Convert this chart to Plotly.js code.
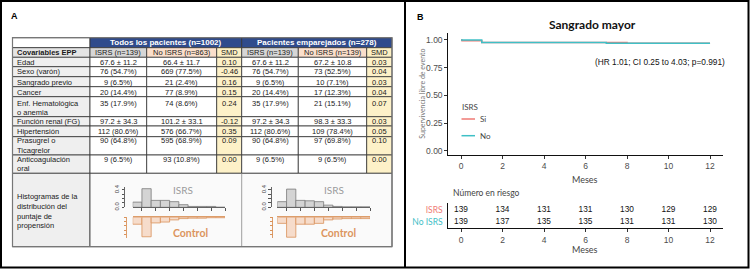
<!DOCTYPE html>
<html><head><meta charset="utf-8">
<script src="https://cdn.plot.ly/plotly-3.0.1.min.js"></script>
<style>html,body{margin:0;padding:0;background:#fff}#chart{width:750px;height:270px}</style>
</head><body><div id="chart"></div>
<script>
// ---------------- DATA ----------------
const groupHeaders = ["Todos los pacientes (n=1002)", "Pacientes emparejados (n=278)"];
const columnHeaders = ["Covariables EPP", "ISRS (n=139)", "No ISRS (n=863)", "SMD", "ISRS (n=139)", "No ISRS (n=139)", "SMD"];
const covariates = ["Edad", "Sexo (varón)", "Sangrado previo", "Cancer", "Enf. Hematológica<br>o anemia", "Función renal (FG)", "Hipertensión", "Prasugrel o<br>Ticagrelor", "Anticoagulación<br>oral"];
const isrsAll = ["67.6 ± 11.2", "76 (54.7%)", "9 (6.5%)", "20 (14.4%)", "35 (17.9%)", "97.2 ± 34.3", "112 (80.6%)", "90 (64.8%)", "9 (6.5%)"];
const noIsrsAll = ["66.4 ± 11.7", "669 (77.5%)", "21 (2.4%)", "77 (8.9%)", "74 (8.6%)", "101.2 ± 33.1", "576 (66.7%)", "595 (68.9%)", "93 (10.8%)"];
const smdAll = ["0.10", "-0.46", "0.16", "0.15", "0.24", "-0.12", "0.35", "0.09", "0.00"];
const isrsMatched = ["67.6 ± 11.2", "76 (54.7%)", "9 (6.5%)", "20 (14.4%)", "35 (17.9%)", "97.2 ± 34.3", "112 (80.6%)", "90 (64.8%)", "9 (6.5%)"];
const noIsrsMatched = ["67.2 ± 10.8", "73 (52.5%)", "10 (7.1%)", "17 (12.3%)", "21 (15.1%)", "98.3 ± 33.3", "109 (78.4%)", "97 (69.8%)", "9 (6.5%)"];
const smdMatched = ["0.03", "0.04", "0.03", "0.04", "0.07", "0.03", "0.05", "0.10", "0.00"];
const histRowLabel = "Histogramas de la<br>distribución del<br>puntaje de<br>propensión";

// propensity score histograms (10 bins, density)
const psBins = [0.05, 0.15, 0.25, 0.35, 0.45, 0.55, 0.65, 0.75, 0.85, 0.95];
const psIsrsAll = [0.12, 0.43, 0.16, 0.16, 0.13, 0.06, 0.02, 0.02, 0.02, 0.00];
const psControlAll = [0.16, 0.45, 0.13, 0.11, 0.06, 0.03, 0.02, 0.02, 0.01, 0.01];
const psIsrsMatched = [0.13, 0.42, 0.16, 0.15, 0.13, 0.05, 0.02, 0.01, 0.01, 0.01];
const psControlMatched = [0.14, 0.46, 0.16, 0.16, 0.14, 0.06, 0.04, 0.03, 0.03, 0.03];

// Kaplan-Meier: Sangrado mayor
const kmMonthsSi = [0, 0.05, 1, 8, 12];
const kmSurvSi = [1, 0.993, 0.978, 0.971, 0.971];
const kmMonthsNo = [0, 1, 7, 12];
const kmSurvNo = [1, 0.978, 0.971, 0.971];
const hrText = "(HR 1.01; CI 0.25 to 4.03; p=0.991)";

// Number at risk
const riskMonths = [0, 2, 4, 6, 8, 10, 12];
const riskIsrs = [139, 134, 131, 131, 130, 129, 129];
const riskNoIsrs = [139, 137, 135, 135, 131, 131, 130];

// ---------------- LAYOUT HELPERS ----------------
const W = 750, H = 270;
const px = x => x / W, py = y => 1 - y / H;
const shapes = [], annotations = [];
const TF = 'Liberation Sans, Arial, sans-serif';
const CF = 'Lato, Open Sans, sans-serif';
function rect(x0, y0, x1, y1, fill, lc, lw, layer) {
  shapes.push({type: 'rect', xref: 'paper', yref: 'paper', x0: px(x0), x1: px(x1), y0: py(y1), y1: py(y0),
    fillcolor: fill, line: {color: lc, width: lw}, layer: layer || 'below'});
}
function seg(x0, y0, x1, y1, c, w, layer) {
  shapes.push({type: 'line', xref: 'paper', yref: 'paper', x0: px(x0), x1: px(x1), y0: py(y0), y1: py(y1),
    line: {color: c, width: w}, layer: layer || 'above'});
}
function txt(t, x, y, font, xa, ya, extra) {
  annotations.push(Object.assign({text: t, x: px(x), y: py(y), xref: 'paper', yref: 'paper', showarrow: false,
    xanchor: xa || 'center', yanchor: ya || 'middle', font: font, borderpad: 0}, extra || {}));
}
function lines(t, x, yFirst, step, font, xa) {
  t.split('<br>').forEach((s, i) => txt(s, x, yFirst + i * step, font, xa));
}

// ---------------- PANEL A: TABLE ----------------
const colX = [12.5, 90, 146.7, 216.7, 241.7, 298.3, 366.7, 392];
const rowY = [37.7, 47.7, 57.3, 66.7, 76.7, 86.7, 96.7, 116.7, 126, 136.7, 155, 173.3, 246.7];
const cellFont = {family: TF, size: 7.5, color: '#1a1a1a'};
const BL = '#2f4b8c', LC = '#333333';
txt('<b>A</b>', 14, 16, {family: TF, size: 9, color: '#000'});

// header row 1
rect(colX[0], rowY[0], colX[1], rowY[1], '#ffffff', LC, 0.8);
rect(colX[1], rowY[0], colX[4], rowY[1], BL, LC, 0.8);
rect(colX[4], rowY[0], colX[7], rowY[1], BL, LC, 0.8);
txt('<b>' + groupHeaders[0] + '</b>', (colX[1] + colX[4]) / 2, (rowY[0] + rowY[1]) / 2 + 0.3, {family: TF, size: 8, color: '#fff'});
txt('<b>' + groupHeaders[1] + '</b>', (colX[4] + colX[7]) / 2, (rowY[0] + rowY[1]) / 2 + 0.3, {family: TF, size: 8, color: '#fff'});
// header row 2
const hdrFill = ['#e4e4e4', '#d6d6d6', '#fbdfcb', '#fcefc2', '#d6d6d6', '#fbdfcb', '#fcefc2'];
for (let c = 0; c < 7; c++) {
  rect(colX[c], rowY[1], colX[c + 1], rowY[2], hdrFill[c], LC, 0.8);
  const t = c === 0 ? '<b>' + columnHeaders[c] + '</b>' : columnHeaders[c];
  if (c === 0) txt(t, colX[0] + 3, (rowY[1] + rowY[2]) / 2 + 0.3, cellFont, 'left');
  else txt(t, (colX[c] + colX[c + 1]) / 2, (rowY[1] + rowY[2]) / 2 + 0.3, cellFont);
}
// data rows
const rowFill = ['#efefef', '#ffffff', '#ffffff', '#fdf1c8', '#ffffff', '#ffffff', '#fdf1c8'];
for (let r = 0; r < covariates.length; r++) {
  const y0 = rowY[r + 2], y1 = rowY[r + 3];
  const vals = [covariates[r], isrsAll[r], noIsrsAll[r], smdAll[r], isrsMatched[r], noIsrsMatched[r], smdMatched[r]];
  const two = covariates[r].indexOf('<br>') >= 0;
  const tall = (y1 - y0) > 19.5;
  const ty = two ? (tall ? y0 + 6.3 : y0 + 4.1) : (y0 + y1) / 2 + 0.3;
  const step = tall ? 9.4 : 9.8;
  for (let c = 0; c < 7; c++) {
    rect(colX[c], y0, colX[c + 1], y1, rowFill[c], LC, 0.8);
    if (c === 0) lines(vals[c], colX[0] + 3, ty, step, cellFont, 'left');
    else txt(vals[c], (colX[c] + colX[c + 1]) / 2, ty, cellFont);
  }
}
// histogram row
const hy0 = rowY[11], hy1 = rowY[12];
rect(colX[0], hy0, colX[1], hy1, '#efefef', LC, 0.8);
rect(colX[1], hy0, colX[7], hy1, '#fafafa', LC, 0.8);
seg(colX[4], hy0, colX[4], hy1, '#888', 0.8);
lines(histRowLabel, colX[0] + 3, 196.7, 9.7, cellFont, 'left');
// table outer frame
rect(colX[0], rowY[0], colX[7], rowY[12], 'rgba(0,0,0,0)', '#777', 1.2, 'above');
// histogram labels
const isrsLblFont = {family: CF, size: 10, color: '#9a9a9a'};
const ctrlLblFont = {family: CF, size: 10.5, color: '#dc955e'};
txt('ISRS', 183.3, 189.5, isrsLblFont);
txt('ISRS', 333.5, 189.5, isrsLblFont);
txt('<b>Control</b>', 190, 232.5, ctrlLblFont);
txt('<b>Control</b>', 338, 233.3, ctrlLblFont);

// ---------------- PANEL B: KM ----------------
const RED = '#ef7a74', TEAL = '#3fc0c6';
txt('<b>B</b>', 420, 17, {family: TF, size: 9, color: '#000'});
txt('<b>Sangrado mayor</b>', 592, 24.5, {family: CF, size: 12, color: '#111'});
txt(hrText, 660, 61.7, {family: TF, size: 8.3, color: '#111'});
txt('Supervivencia libre de evento', 421.7, 94, {family: CF, size: 7, color: '#777'}, 'center', 'middle', {textangle: -90});
txt('Meses', 585, 179, {family: CF, size: 9, color: '#444'});
txt('Número en riesgo', 451.5, 193.3, {family: CF, size: 8.5, color: '#444'}, 'left');
txt('Meses', 585, 249.5, {family: CF, size: 9, color: '#444'});
// manual legend
txt('ISRS', 461.5, 106.7, {family: CF, size: 8, color: '#444'}, 'left');
seg(461.5, 119, 475, 119, RED, 1.5);
txt('Si', 478.5, 119, {family: CF, size: 8, color: '#444'}, 'left');
seg(461.5, 135.7, 475, 135.7, TEAL, 1.5);
txt('No', 478.5, 135.7, {family: CF, size: 8, color: '#444'}, 'left');

// outer frame and divider
rect(1, 1, 748.5, 267.5, 'rgba(0,0,0,0)', '#000', 2, 'above');
seg(405, 1, 405, 267.5, '#000', 2);

// ---------------- TRACES ----------------
const traces = [
  {type: 'scatter', mode: 'lines', x: kmMonthsSi, y: kmSurvSi, line: {shape: 'hv', color: RED, width: 1.5}, xaxis: 'x', yaxis: 'y', hoverinfo: 'skip'},
  {type: 'scatter', mode: 'lines', x: kmMonthsNo, y: kmSurvNo, line: {shape: 'hv', color: TEAL, width: 1.5}, xaxis: 'x', yaxis: 'y', hoverinfo: 'skip'},
  {type: 'scatter', mode: 'text', x: riskMonths, y: riskMonths.map(() => 1), text: riskIsrs.map(String), textfont: {family: TF, size: 8.3, color: '#111'}, xaxis: 'x2', yaxis: 'y2', hoverinfo: 'skip'},
  {type: 'scatter', mode: 'text', x: riskMonths, y: riskMonths.map(() => 0), text: riskNoIsrs.map(String), textfont: {family: TF, size: 8.3, color: '#111'}, xaxis: 'x2', yaxis: 'y2', hoverinfo: 'skip'},
  {type: 'bar', x: psBins, y: psIsrsAll, width: 0.1, marker: {color: '#d4d4d4', line: {color: '#7a7a7a', width: 0.8}}, xaxis: 'x3', yaxis: 'y3', hoverinfo: 'skip'},
  {type: 'bar', x: psBins, y: psControlAll, width: 0.1, marker: {color: '#f6dccb', line: {color: '#d9925a', width: 0.8}}, xaxis: 'x4', yaxis: 'y4', hoverinfo: 'skip'},
  {type: 'bar', x: psBins, y: psIsrsMatched, width: 0.1, marker: {color: '#d4d4d4', line: {color: '#7a7a7a', width: 0.8}}, xaxis: 'x5', yaxis: 'y5', hoverinfo: 'skip'},
  {type: 'bar', x: psBins, y: psControlMatched, width: 0.1, marker: {color: '#f6dccb', line: {color: '#d9925a', width: 0.8}}, xaxis: 'x6', yaxis: 'y6', hoverinfo: 'skip'}
];

const kmX0 = 448.3, kmX1 = 722.7;
const common = {showgrid: false, zeroline: false, fixedrange: true};
const tickF = {family: TF, size: 8.5, color: '#4d4d4d'};
const layout = {
  width: W, height: H, autosize: false, margin: {l: 0, r: 0, t: 0, b: 0},
  paper_bgcolor: '#ffffff', plot_bgcolor: 'rgba(0,0,0,0)', showlegend: false, bargap: 0,
  xaxis: Object.assign({}, common, {domain: [px(kmX0), px(kmX1)], range: [-0.612, 12.61], anchor: 'y', tickvals: riskMonths,
    ticks: 'outside', ticklen: 3, tickcolor: '#333', showline: true, linecolor: '#111', linewidth: 1, tickfont: tickF}),
  yaxis: Object.assign({}, common, {domain: [py(155), py(33.3)], range: [-0.039, 1.06], anchor: 'x', tickvals: [0, 0.25, 0.5, 0.75, 1],
    ticktext: ['0.00', '0.25', '0.50', '0.75', '1.00'], ticks: 'outside', ticklen: 3, tickcolor: '#333', showline: true, linecolor: '#111', linewidth: 1, tickfont: tickF}),
  xaxis2: Object.assign({}, common, {domain: [px(kmX0), px(kmX1)], range: [-0.612, 12.61], anchor: 'y2', tickvals: riskMonths,
    ticks: 'outside', ticklen: 3, tickcolor: '#333', showline: true, linecolor: '#111', linewidth: 1, tickfont: tickF}),
  yaxis2: Object.assign({}, common, {domain: [py(228.3), py(202.7)], range: [-0.56, 1.62], anchor: 'x2', tickvals: [1, 0],
    ticktext: ['<span style="color:' + RED + '">ISRS</span>', '<span style="color:' + TEAL + '">No ISRS</span>'],
    ticks: 'outside', ticklen: 3, tickcolor: 'rgba(0,0,0,0)', showline: true, linecolor: '#111', linewidth: 1, tickfont: {family: CF, size: 8.5}}),
  shapes: shapes, annotations: annotations
};
// histogram axes
function histAxes(xn, yn, xd0, xd1, yTop, yBot, pos, color, reversed) {
  layout['xaxis' + xn] = Object.assign({}, common, {domain: [px(xd0), px(xd1)], range: [0, 1], anchor: 'y' + yn,
    side: reversed ? 'top' : 'bottom', showline: true, linecolor: color, linewidth: 0.9,
    ticks: reversed ? '' : 'outside', ticklen: 2.5, tickcolor: color, tickvals: [0.1, 0.25, 0.4, 0.55, 0.7, 0.85, 1.0], showticklabels: false});
  layout['yaxis' + yn] = Object.assign({}, common, {domain: [py(yBot), py(yTop)], range: reversed ? [0.476, 0] : [0, 0.476],
    anchor: 'free', position: px(pos), showline: true, linecolor: color, linewidth: 0.9, ticks: 'outside', ticklen: 2.5, tickcolor: color,
    tickvals: [0, 0.1, 0.2, 0.3, 0.4], ticktext: reversed ? ['', '', '', '', ''] : ['0.0', '', '', '', '0.4'], tickangle: -90,
    showticklabels: !reversed, tickfont: {family: TF, size: 6, color: '#444'}});
}
histAxes(3, 3, 132.7, 225, 186.7, 207.3, 124, '#555', false);
histAxes(4, 4, 132.7, 225, 217.3, 237.9, 126, '#d9925a', true);
histAxes(5, 5, 277.3, 370, 186.7, 207.3, 270.7, '#555', false);
histAxes(6, 6, 277.3, 370, 217.3, 237.9, 272.5, '#d9925a', true);

Plotly.newPlot('chart', traces, layout, {staticPlot: true, displayModeBar: false});
</script>
</body></html>
